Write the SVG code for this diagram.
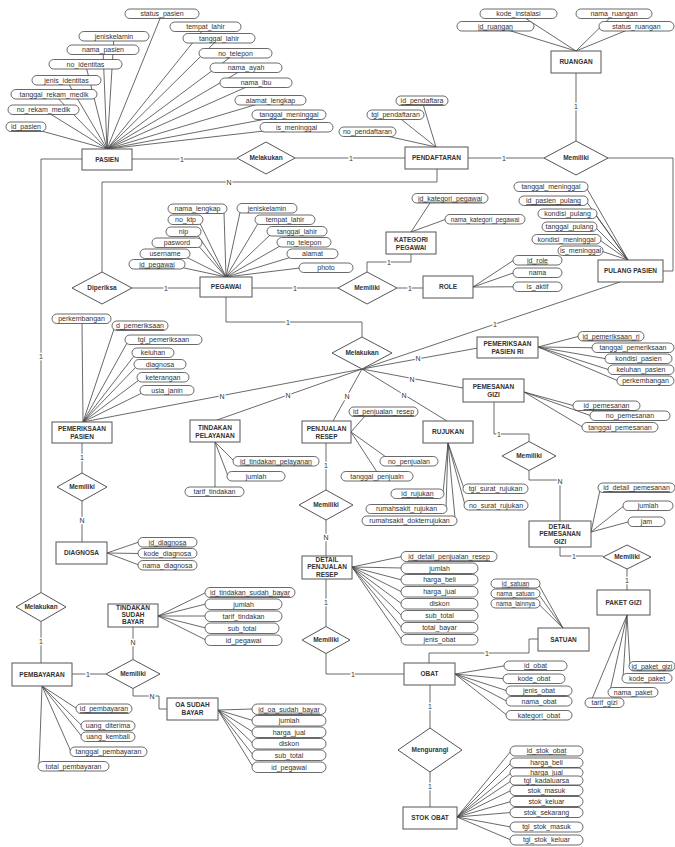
<svg xmlns="http://www.w3.org/2000/svg" width="675" height="847" viewBox="0 0 675 847">
<style>
.bg{fill:#fff}
.ln{fill:none;stroke:#444;stroke-width:0.8}
.a{fill:#fff;stroke:#444;stroke-width:0.8}
.t{font-family:"Liberation Sans",Arial,sans-serif;font-size:7px;fill:#333;text-anchor:middle}
.ts{font-family:"Liberation Sans",Arial,sans-serif;font-size:6.3px;fill:#333;text-anchor:middle}
.e{fill:#fff;stroke:#555;stroke-width:1}
.et{font-family:"Liberation Sans",Arial,sans-serif;font-size:6.5px;font-weight:bold;fill:#333;text-anchor:middle}
.d{fill:#fff;stroke:#555;stroke-width:1}
.c{font-family:"Liberation Sans",Arial,sans-serif;font-size:7px;fill:#333;text-anchor:middle;stroke:#fff;stroke-width:2.5;paint-order:stroke}
</style>
<rect class="bg" x="0" y="0" width="675" height="847"/>

<g id="connectors" class="ln">
<!-- relationships -->
<polyline points="132,159 237,159"/>
<polyline points="295,158 405,158"/>
<polyline points="437,169 437,182 102,182 102,272"/>
<polyline points="132,288 200,288"/>
<polyline points="252,288 338,288"/>
<polyline points="411,254 411,262 367,262 367,272"/>
<polyline points="397,288 423,288"/>
<polyline points="468,158 544,158"/>
<polyline points="576,73 576,141"/>
<polyline points="608,158 673,158 673,271 663,271"/>
<polyline points="82,159 41,159 41,592.5"/>
<polyline points="41,621.5 41,663"/>
<polyline points="226,297 226,322 362,322 362,337"/>
<line x1="362" y1="369" x2="83" y2="422"/>
<line x1="362" y1="369" x2="217" y2="420"/>
<line x1="362" y1="369" x2="333" y2="421"/>
<line x1="362" y1="369" x2="447" y2="421"/>
<line x1="362" y1="369" x2="463" y2="388"/>
<line x1="362" y1="369" x2="478" y2="348"/>
<line x1="362" y1="369" x2="620" y2="282"/>
<polyline points="494,402 494,434 529,434 529,441.5"/>
<polyline points="529,470.5 529,480 560,480 560,521"/>
<polyline points="560,547 560,556 603,556"/>
<polyline points="627,569 627,590"/>
<polyline points="326,443 326,490"/>
<polyline points="326,520 326,556"/>
<polyline points="326,579 326,626.5"/>
<polyline points="326,653.5 326,674 404,674"/>
<polyline points="429,663 429,653 529,653 529,639 538,639"/>
<polyline points="430,685 430,728"/>
<polyline points="430,772 430,807"/>
<polyline points="82,443 82,473"/>
<polyline points="82,501 82,542"/>
<polyline points="72,674 106,674"/>
<polyline points="133,659.5 133,627"/>
<polyline points="133,688.5 133,696 159,696 159,709 167,709"/>
<!-- attribute links: PASIEN -->
<path d="M107,149L162,13.75M107,149L205.5,26.75M107,149L219,38.25M107,149L114,36.25M107,149L103,49.75M107,149L85.5,64.25M107,149L235.5,53.25M107,149L246,67.75M107,149L66.5,80.25M107,149L256,82.75M107,149L54,94.25M107,149L270.5,100.25M107,149L43.5,109.75M107,149L289,114.75M107,149L26,126.75M107,149L296.5,127.25"/>
<!-- PENDAFTARAN -->
<path d="M436,147L422,100.75M436,147L395.5,114.75M436,147L367.5,131.75"/>
<!-- RUANGAN -->
<path d="M576,51L518.5,13.75M576,51L495.5,26.25M576,51L614,13.75M576,51L636.5,26.25"/>
<!-- PEGAWAI -->
<path d="M226,277L224,212.5M226,277L200,223.5M226,277L198,235.5M226,277L199,246.5M226,277L187,257.5M226,277L182,267.5M226,277L240,212.5M226,277L258,223.5M226,277L270,235M226,277L280,246M226,277L290,257.5M226,277L300,268"/>
<!-- KATEGORI -->
<path d="M411,232L430,203M411,232L446,219.25"/>
<!-- ROLE -->
<path d="M473,287L514,260M473,287L514,272.75M473,287L514,286.75"/>
<!-- PULANG PASIEN -->
<path d="M628,260L586,187M628,260L586,201M628,260L595,214M628,260L595,227M628,260L599,239.5M628,260L601,251"/>
<!-- PEMERIKSAAN RI -->
<path d="M538,347L579,336.25M538,347L593,347.75M538,347L606,358.75M538,347L609,369.75M538,347L618,380.75"/>
<!-- PEMESANAN GIZI -->
<path d="M524,392L574,405.75M524,392L591,415.75M524,392L583,427.25"/>
<!-- DETAIL PEMESANAN -->
<path d="M591,532L600,490M591,532L624,505.75M591,532L629,521.75"/>
<!-- PAKET GIZI -->
<path d="M627,615L630,666M627,615L623,678M627,615L610,691M627,615L592,699"/>
<!-- RUJUKAN -->
<path d="M448,443L443,493M448,443L446,508.5M448,443L455,518M448,443L464,488.5M448,443L465,505"/>
<!-- PENJUALAN RESEP -->
<path d="M351,432L365,416M351,432L386,457M351,432L377,472"/>
<!-- TINDAKAN PELAYANAN -->
<path d="M215,442L234,461M215,442L228,476M215,442L215,487"/>
<!-- PEMERIKSAAN PASIEN -->
<path d="M83,422L82,323M83,422L114,329M83,422L127,343M83,422L134,356M83,422L136,367M83,422L139,380M83,422L142,393"/>
<!-- DIAGNOSA -->
<path d="M107,553L139,542M107,553L139,553.5M107,553L139,565"/>
<!-- DETAIL PENJUALAN RESEP -->
<path d="M352,567L402,556.5M352,567L402,568M352,567L402,580M352,567L402,592M352,567L402,604M352,567L402,616M352,567L402,628M352,567L402,640"/>
<!-- SATUAN -->
<path d="M563,628L538,583.5M563,628L538,593.5M563,628L538,603.5"/>
<!-- OBAT -->
<path d="M455,674L505,665.75M455,674L504,678.75M455,674L507,690.75M455,674L507,701.25M455,674L507,715.25"/>
<!-- STOK OBAT -->
<path d="M457,817L511,751M457,817L511,763M457,817L511,773M457,817L511,781M457,817L511,790.5M457,817L511,801.5M457,817L511,812.5M457,817L511,827M457,817L511,840"/>
<!-- TINDAKAN SUDAH BAYAR -->
<path d="M158,616L206,592.5M158,616L206,604M158,616L206,616M158,616L206,628M158,616L206,640"/>
<!-- OA SUDAH BAYAR -->
<path d="M218,710L253,709M218,710L253,720.5M218,710L253,732M218,710L253,743.5M218,710L253,755M218,710L253,767"/>
<!-- PEMBAYARAN -->
<path d="M42,686L77,708.75M42,686L82,725.75M42,686L82,736.75M42,686L71,751.75M42,686L39,766"/>
</g>

<g id="cardinality">
<text class="c" x="182" y="161.5">1</text>
<text class="c" x="351" y="160.5">1</text>
<text class="c" x="229" y="184.5">N</text>
<text class="c" x="166" y="290.5">1</text>
<text class="c" x="295" y="290.5">1</text>
<text class="c" x="389" y="264.5">1</text>
<text class="c" x="410" y="290.5">1</text>
<text class="c" x="504" y="160.5">1</text>
<text class="c" x="576" y="108.5">1</text>
<text class="c" x="41" y="358.5">1</text>
<text class="c" x="41" y="643.5">1</text>
<text class="c" x="288" y="324.5">1</text>
<text class="c" x="222" y="398.5">N</text>
<text class="c" x="288" y="398">N</text>
<text class="c" x="347" y="398.5">N</text>
<text class="c" x="404" y="397.5">N</text>
<text class="c" x="412" y="381.5">N</text>
<text class="c" x="418" y="361">N</text>
<text class="c" x="495" y="326.5">1</text>
<text class="c" x="499" y="436.5">1</text>
<text class="c" x="560" y="484">N</text>
<text class="c" x="574" y="558.5">1</text>
<text class="c" x="627" y="582.5">1</text>
<text class="c" x="326" y="467.5">1</text>
<text class="c" x="326" y="539.5">N</text>
<text class="c" x="326" y="604.5">1</text>
<text class="c" x="353" y="676.5">1</text>
<text class="c" x="487" y="655.5">1</text>
<text class="c" x="430" y="708.5">1</text>
<text class="c" x="430" y="788.5">1</text>
<text class="c" x="82" y="459.5">1</text>
<text class="c" x="82" y="522.5">N</text>
<text class="c" x="88" y="676.5">1</text>
<text class="c" x="133" y="644.5">N</text>
<text class="c" x="152" y="698.5">N</text>
</g>

<!-- relationships (diamonds) -->
<g id="rel-melakukan-pendaftaran"><polygon class="d" points="237,158 266,142 295,158 266,174"/><text class="et" x="266" y="160.3">Melakukan</text></g>
<g id="rel-memiliki-ruangan"><polygon class="d" points="544,158 576,141 608,158 576,175"/><text class="et" x="576" y="160.3">Memiliki</text></g>
<g id="rel-diperiksa"><polygon class="d" points="72,288 102,272 132,288 102,304"/><text class="et" x="102" y="290.3">Diperiksa</text></g>
<g id="rel-memiliki-role"><polygon class="d" points="338,288 367,272 397,288 367,304"/><text class="et" x="367" y="290.3">Memiliki</text></g>
<g id="rel-melakukan-pegawai"><polygon class="d" points="332,353 362,337 392,353 362,369"/><text class="et" x="362" y="355.3">Melakukan</text></g>
<g id="rel-memiliki-gizi"><polygon class="d" points="502,456 529,441.5 556,456 529,470.5"/><text class="et" x="529" y="458.3">Memiliki</text></g>
<g id="rel-memiliki-paket"><polygon class="d" points="603,557 627,545 651,557 627,569"/><text class="et" x="627" y="559.3">Memiliki</text></g>
<g id="rel-memiliki-detail-resep"><polygon class="d" points="299,505 326,490 353,505 326,520"/><text class="et" x="326" y="507.3">Memiliki</text></g>
<g id="rel-memiliki-obat"><polygon class="d" points="302,640 326,626.5 350,640 326,653.5"/><text class="et" x="326" y="642.3">Memiliki</text></g>
<g id="rel-mengurangi"><polygon class="d" points="398,750 430,728 462,750 430,772"/><text class="et" x="430" y="752.3">Mengurangi</text></g>
<g id="rel-memiliki-diagnosa"><polygon class="d" points="57,487 82,473 107,487 82,501"/><text class="et" x="82" y="489.3">Memiliki</text></g>
<g id="rel-melakukan-pembayaran"><polygon class="d" points="16,607 41,592.5 66,607 41,621.5"/><text class="et" x="41" y="609.3">Melakukan</text></g>
<g id="rel-memiliki-bayar"><polygon class="d" points="106,674 133,659.5 160,674 133,688.5"/><text class="et" x="133" y="676.3">Memiliki</text></g>

<!-- entities -->
<g id="pasien"><rect class="e" x="82" y="149" width="50" height="21"/><text class="et" x="107" y="161.8">PASIEN</text></g>
<g id="pendaftaran"><rect class="e" x="405" y="147" width="63" height="22"/><text class="et" x="436.5" y="160.3">PENDAFTARAN</text></g>
<g id="ruangan"><rect class="e" x="551" y="51" width="50" height="22"/><text class="et" x="576" y="64.3">RUANGAN</text></g>
<g id="pegawai"><rect class="e" x="200" y="277" width="52" height="20"/><text class="et" x="226" y="289.3">PEGAWAI</text></g>
<g id="kategori-pegawai"><rect class="e" x="386" y="232" width="50" height="22"/><text class="et" x="411" y="241.5">KATEGORI</text><text class="et" x="411" y="249.5">PEGAWAI</text></g>
<g id="role"><rect class="e" x="423" y="276" width="50" height="22"/><text class="et" x="448" y="289.3">ROLE</text></g>
<g id="pulang-pasien"><rect class="e" x="598" y="260" width="65" height="22"/><text class="et" x="630.5" y="273.3">PULANG PASIEN</text></g>
<g id="pemeriksaan-pasien-ri"><rect class="e" x="477" y="337" width="61" height="21"/><text class="et" x="507.5" y="345.5">PEMERIKSAAN</text><text class="et" x="507.5" y="353.5">PASIEN RI</text></g>
<g id="pemesanan-gizi"><rect class="e" x="463" y="379" width="61" height="23"/><text class="et" x="493.5" y="388.5">PEMESANAN</text><text class="et" x="493.5" y="396.5">GIZI</text></g>
<g id="rujukan"><rect class="e" x="423" y="421" width="50" height="22"/><text class="et" x="448" y="434.3">RUJUKAN</text></g>
<g id="penjualan-resep"><rect class="e" x="302" y="421" width="49" height="22"/><text class="et" x="326.5" y="430.5">PENJUALAN</text><text class="et" x="326.5" y="438.5">RESEP</text></g>
<g id="tindakan-pelayanan"><rect class="e" x="190" y="420" width="50" height="22"/><text class="et" x="215" y="429.5">TINDAKAN</text><text class="et" x="215" y="437.5">PELAYANAN</text></g>
<g id="pemeriksaan-pasien"><rect class="e" x="52" y="422" width="60" height="21"/><text class="et" x="82" y="430.5">PEMERIKSAAN</text><text class="et" x="82" y="438.5">PASIEN</text></g>
<g id="diagnosa"><rect class="e" x="56" y="542" width="51" height="22"/><text class="et" x="81.5" y="555.3">DIAGNOSA</text></g>
<g id="detail-pemesanan-gizi"><rect class="e" x="529" y="521" width="62" height="26"/><text class="et" x="560" y="528.5">DETAIL</text><text class="et" x="560" y="536">PEMESANAN</text><text class="et" x="560" y="543.5">GIZI</text></g>
<g id="paket-gizi"><rect class="e" x="597" y="590" width="53" height="25"/><text class="et" x="623.5" y="604.8">PAKET GIZI</text></g>
<g id="detail-penjualan-resep"><rect class="e" x="302" y="556" width="50" height="23"/><text class="et" x="327" y="561.5">DETAIL</text><text class="et" x="327" y="569">PENJUALAN</text><text class="et" x="327" y="576.5">RESEP</text></g>
<g id="satuan"><rect class="e" x="538" y="628" width="51" height="23"/><text class="et" x="563.5" y="641.8">SATUAN</text></g>
<g id="obat"><rect class="e" x="404" y="663" width="51" height="22"/><text class="et" x="429.5" y="676.3">OBAT</text></g>
<g id="stok-obat"><rect class="e" x="403" y="807" width="54" height="22"/><text class="et" x="430" y="820.3">STOK OBAT</text></g>
<g id="tindakan-sudah-bayar"><rect class="e" x="108" y="604" width="50" height="23"/><text class="et" x="133" y="610">TINDAKAN</text><text class="et" x="133" y="617">SUDAH</text><text class="et" x="133" y="624">BAYAR</text></g>
<g id="oa-sudah-bayar"><rect class="e" x="167" y="698" width="51" height="22"/><text class="et" x="192.5" y="707">OA SUDAH</text><text class="et" x="192.5" y="715">BAYAR</text></g>
<g id="pembayaran"><rect class="e" x="12" y="663" width="60" height="23"/><text class="et" x="42" y="676.8">PEMBAYARAN</text></g>

<!-- attributes -->
<g id="attr-pasien">
<rect class="a" x="125" y="9" width="74" height="9.5" rx="4.75"/><text class="t" x="162" y="16.2">status_pasien</text>
<rect class="a" x="170" y="22" width="71" height="9.5" rx="4.75"/><text class="t" x="205.5" y="29.2">tempat_lahir</text>
<rect class="a" x="183" y="33.5" width="72" height="9.5" rx="4.75"/><text class="t" x="219" y="40.7">tanggal_lahir</text>
<rect class="a" x="79" y="31.5" width="70" height="9.5" rx="4.75"/><text class="t" x="114" y="38.7">jeniskelamin</text>
<rect class="a" x="67" y="45" width="72" height="9.5" rx="4.75"/><text class="t" x="103" y="52.2">nama_pasien</text>
<rect class="a" x="49" y="59.5" width="73" height="9.5" rx="4.75"/><text class="t" x="85.5" y="66.7">no_identitas</text>
<rect class="a" x="199" y="48.5" width="73" height="9.5" rx="4.75"/><text class="t" x="235.5" y="55.7">no_telepon</text>
<rect class="a" x="210" y="63" width="72" height="9.5" rx="4.75"/><text class="t" x="246" y="70.2">nama_ayah</text>
<rect class="a" x="32" y="75.5" width="69" height="9.5" rx="4.75"/><text class="t" x="66.5" y="82.7">jenis_identitas</text>
<rect class="a" x="220" y="78" width="72" height="9.5" rx="4.75"/><text class="t" x="256" y="85.2">nama_ibu</text>
<rect class="a" x="11" y="89.5" width="86" height="9.5" rx="4.75"/><text class="t" x="54" y="96.7">tanggal_rekam_medik</text>
<rect class="a" x="235" y="95.5" width="71" height="9.5" rx="4.75"/><text class="t" x="270.5" y="102.7">alamat_lengkap</text>
<rect class="a" x="8" y="105" width="71" height="9.5" rx="4.75"/><text class="t" x="43.5" y="112.2">no_rekam_medik</text>
<rect class="a" x="252" y="110" width="74" height="9.5" rx="4.75"/><text class="t" x="289" y="117.2">tanggal_meninggal</text>
<rect class="a" x="6" y="122" width="40" height="9.5" rx="4.75"/><text class="t" x="26" y="129.2" text-decoration="underline">id_pasien</text>
<rect class="a" x="260" y="122.5" width="73" height="9.5" rx="4.75"/><text class="t" x="296.5" y="129.7">is_meninggal</text>
</g>
<g id="attr-pendaftaran">
<rect class="a" x="396" y="96" width="52" height="9.5" rx="4.75"/><text class="t" x="422" y="103.2" text-decoration="underline">id_pendaftara</text>
<rect class="a" x="367" y="110" width="57" height="9.5" rx="4.75"/><text class="t" x="395.5" y="117.2">tgl_pendaftaran</text>
<rect class="a" x="339" y="127" width="57" height="9.5" rx="4.75"/><text class="t" x="367.5" y="134.2">no_pendaftaran</text>
</g>
<g id="attr-ruangan">
<rect class="a" x="480" y="9" width="77" height="9.5" rx="4.75"/><text class="t" x="518.5" y="16.2">kode_instalasi</text>
<rect class="a" x="457" y="21.5" width="77" height="9.5" rx="4.75"/><text class="t" x="495.5" y="28.7" text-decoration="underline">id_ruangan</text>
<rect class="a" x="576" y="9" width="76" height="9.5" rx="4.75"/><text class="t" x="614" y="16.2">nama_ruangan</text>
<rect class="a" x="599" y="21.5" width="75" height="9.5" rx="4.75"/><text class="t" x="636.5" y="28.7">status_ruangan</text>
</g>
<g id="attr-pegawai">
<rect class="a" x="168" y="204" width="59" height="9.5" rx="4.75"/><text class="t" x="197.5" y="211.2">nama_lengkap</text>
<rect class="a" x="168" y="215" width="35" height="9.5" rx="4.75"/><text class="t" x="185.5" y="222.2">no_ktp</text>
<rect class="a" x="166" y="227" width="35" height="9.5" rx="4.75"/><text class="t" x="183.5" y="234.2">nip</text>
<rect class="a" x="152" y="238" width="50" height="9.5" rx="4.75"/><text class="t" x="177" y="245.2">pasword</text>
<rect class="a" x="140" y="249" width="50" height="9.5" rx="4.75"/><text class="t" x="165" y="256.2">username</text>
<rect class="a" x="129" y="259.5" width="56" height="9.5" rx="4.75"/><text class="t" x="157" y="266.7" text-decoration="underline">id_pegawai</text>
<rect class="a" x="237" y="203.5" width="60" height="9.5" rx="4.75"/><text class="t" x="267" y="210.7">jeniskelamin</text>
<rect class="a" x="255" y="215" width="60" height="9.5" rx="4.75"/><text class="t" x="285" y="222.2">tempat_lahir</text>
<rect class="a" x="267" y="226.5" width="60" height="9.5" rx="4.75"/><text class="t" x="297" y="233.7">tanggal_lahir</text>
<rect class="a" x="277" y="237.5" width="54" height="9.5" rx="4.75"/><text class="t" x="304" y="244.7">no_telepon</text>
<rect class="a" x="287" y="249" width="51" height="9.5" rx="4.75"/><text class="t" x="312.5" y="256.2">alamat</text>
<rect class="a" x="299" y="263" width="54" height="9.5" rx="4.75"/><text class="t" x="326" y="270.2">photo</text>
</g>
<g id="attr-kategori-pegawai">
<rect class="a" x="412" y="193.5" width="76" height="9.5" rx="4.75"/><text class="t" x="450" y="200.7" text-decoration="underline">id_kategori_pegawai</text>
<rect class="a" x="445" y="214.5" width="80" height="9.5" rx="4.75"/><text class="ts" x="485" y="221.5">nama_kategori_pegawai</text>
</g>
<g id="attr-role">
<rect class="a" x="513" y="255.5" width="49" height="9.5" rx="4.75"/><text class="t" x="537.5" y="262.7" text-decoration="underline">id_role</text>
<rect class="a" x="513" y="268" width="49" height="9.5" rx="4.75"/><text class="t" x="537.5" y="275.2">nama</text>
<rect class="a" x="513" y="282" width="49" height="9.5" rx="4.75"/><text class="t" x="537.5" y="289.2">is_aktif</text>
</g>
<g id="attr-pulang-pasien">
<rect class="a" x="514" y="182" width="74" height="9.5" rx="4.75"/><text class="t" x="551" y="189.2">tanggal_meninggal</text>
<rect class="a" x="519" y="196" width="69" height="9.5" rx="4.75"/><text class="t" x="553.5" y="203.2" text-decoration="underline">id_pasien_pulang</text>
<rect class="a" x="538" y="209" width="59" height="9.5" rx="4.75"/><text class="t" x="567.5" y="216.2">kondisi_pulang</text>
<rect class="a" x="542" y="222" width="55" height="9.5" rx="4.75"/><text class="t" x="569.5" y="229.2">tanggal_pulang</text>
<rect class="a" x="532" y="234.5" width="69" height="9.5" rx="4.75"/><text class="t" x="566.5" y="241.7">kondisi_meninggal</text>
<rect class="a" x="558" y="246" width="45" height="9.5" rx="4.75"/><text class="t" x="580.5" y="253.2">is_meninggal</text>
</g>
<g id="attr-pemeriksaan-pasien-ri">
<rect class="a" x="578" y="331.5" width="66" height="9.5" rx="4.75"/><text class="t" x="611" y="338.7" text-decoration="underline">id_pemeriksaan_ri</text>
<rect class="a" x="592" y="343" width="82" height="9.5" rx="4.75"/><text class="t" x="633" y="350.2">tanggal_pemeriksaan</text>
<rect class="a" x="605" y="354" width="67" height="9.5" rx="4.75"/><text class="t" x="638.5" y="361.2">kondisi_pasien</text>
<rect class="a" x="608" y="365" width="66" height="9.5" rx="4.75"/><text class="t" x="641" y="372.2">keluhan_pasien</text>
<rect class="a" x="617" y="376" width="57" height="9.5" rx="4.75"/><text class="t" x="645.5" y="383.2">perkembangan</text>
</g>
<g id="attr-pemesanan-gizi">
<rect class="a" x="573" y="401" width="67" height="9.5" rx="4.75"/><text class="t" x="606.5" y="408.2" text-decoration="underline">id_pemesanan</text>
<rect class="a" x="590" y="411" width="80" height="9.5" rx="4.75"/><text class="t" x="630" y="418.2">no_pemesanan</text>
<rect class="a" x="582" y="422.5" width="76" height="9.5" rx="4.75"/><text class="t" x="620" y="429.7">tanggal_pemesanan</text>
</g>
<g id="attr-detail-pemesanan-gizi">
<rect class="a" x="598" y="483" width="77" height="9.5" rx="4.75"/><text class="t" x="636.5" y="490.2" text-decoration="underline">id_detail_pemesanan</text>
<rect class="a" x="623" y="501" width="50" height="9.5" rx="4.75"/><text class="t" x="648" y="508.2">jumlah</text>
<rect class="a" x="628" y="517" width="37" height="9.5" rx="4.75"/><text class="t" x="646.5" y="524.2">jam</text>
</g>
<g id="attr-paket-gizi">
<rect class="a" x="629" y="661.5" width="46" height="9.5" rx="4.75"/><text class="t" x="652" y="668.7" text-decoration="underline">id_paket_gizi</text>
<rect class="a" x="622" y="673.5" width="50" height="9.5" rx="4.75"/><text class="t" x="647" y="680.7">kode_paket</text>
<rect class="a" x="608" y="687.5" width="50" height="9.5" rx="4.75"/><text class="t" x="633" y="694.7">nama_paket</text>
<rect class="a" x="585" y="698" width="39" height="9.5" rx="4.75"/><text class="t" x="604.5" y="705.2">tarif_gizi</text>
</g>
<g id="attr-rujukan">
<rect class="a" x="391" y="489" width="53" height="9.5" rx="4.75"/><text class="t" x="417.5" y="496.2" text-decoration="underline">id_rujukan</text>
<rect class="a" x="366" y="504.5" width="81" height="9" rx="4.5"/><text class="t" x="406.5" y="511.4">rumahsakit_rujukan</text>
<rect class="a" x="362" y="516" width="95" height="9.5" rx="4.75"/><text class="t" x="409.5" y="523.2">rumahsakit_dokterrujukan</text>
<rect class="a" x="463" y="484" width="65" height="9.5" rx="4.75"/><text class="t" x="495.5" y="491.2">tgl_surat_rujukan</text>
<rect class="a" x="464" y="500.5" width="64" height="9.5" rx="4.75"/><text class="t" x="496" y="507.7">no_surat_rujukan</text>
</g>
<g id="attr-penjualan-resep">
<rect class="a" x="349" y="407" width="69" height="9.5" rx="4.75"/><text class="t" x="383.5" y="414.2" text-decoration="underline">id_penjualan_resep</text>
<rect class="a" x="380" y="456.5" width="58" height="9.5" rx="4.75"/><text class="t" x="409" y="463.7">no_penjualan</text>
<rect class="a" x="341" y="471.5" width="72" height="9.5" rx="4.75"/><text class="t" x="377" y="478.7">tanggal_penjualn</text>
</g>
<g id="attr-tindakan-pelayanan">
<rect class="a" x="233" y="456.5" width="86" height="9.5" rx="4.75"/><text class="t" x="276" y="463.7" text-decoration="underline">id_tindakan_pelayanan</text>
<rect class="a" x="227" y="471.5" width="58" height="9.5" rx="4.75"/><text class="t" x="256" y="478.7">jumlah</text>
<rect class="a" x="185" y="487" width="59" height="9.5" rx="4.75"/><text class="t" x="214.5" y="494.2">tarif_tindakan</text>
</g>
<g id="attr-pemeriksaan-pasien">
<rect class="a" x="52" y="314" width="59" height="9.5" rx="4.75"/><text class="t" x="81.5" y="321.2">perkembangan</text>
<rect class="a" x="112" y="321" width="56" height="9.5" rx="4.75"/><text class="t" x="140" y="328.2" text-decoration="underline">d_pemeriksaan</text>
<rect class="a" x="125" y="335" width="77" height="9.5" rx="4.75"/><text class="t" x="163.5" y="342.2">tgl_pemeriksaan</text>
<rect class="a" x="132" y="348" width="42" height="9.5" rx="4.75"/><text class="t" x="153" y="355.2">keluhan</text>
<rect class="a" x="134" y="359.5" width="52" height="9.5" rx="4.75"/><text class="t" x="160" y="366.7">diagnosa</text>
<rect class="a" x="137" y="372.5" width="52" height="9.5" rx="4.75"/><text class="t" x="163" y="379.7">keterangan</text>
<rect class="a" x="140" y="385.5" width="54" height="9.5" rx="4.75"/><text class="t" x="167" y="392.7">usia_janin</text>
</g>
<g id="attr-diagnosa">
<rect class="a" x="138" y="537.5" width="59" height="9.5" rx="4.75"/><text class="t" x="167.5" y="544.7" text-decoration="underline">id_diagnosa</text>
<rect class="a" x="138" y="548.5" width="59" height="9.5" rx="4.75"/><text class="t" x="167.5" y="555.7">kode_diagnosa</text>
<rect class="a" x="138" y="560.5" width="59" height="9.5" rx="4.75"/><text class="t" x="167.5" y="567.7">nama_diagnosa</text>
</g>
<g id="attr-detail-penjualan-resep">
<rect class="a" x="401" y="551.5" width="96" height="10" rx="5"/><text class="t" x="449" y="558.9" text-decoration="underline">id_detail_penjualan_resep</text>
<rect class="a" x="401" y="563" width="77" height="10.5" rx="5.25"/><text class="t" x="439.5" y="570.7">jumlah</text>
<rect class="a" x="401" y="574.5" width="77" height="10.5" rx="5.25"/><text class="t" x="439.5" y="582.2">harga_beli</text>
<rect class="a" x="401" y="586.5" width="77" height="10.5" rx="5.25"/><text class="t" x="439.5" y="594.2">harga_jual</text>
<rect class="a" x="401" y="598.5" width="77" height="10.5" rx="5.25"/><text class="t" x="439.5" y="606.2">diskon</text>
<rect class="a" x="401" y="610.5" width="77" height="10.5" rx="5.25"/><text class="t" x="439.5" y="618.2">sub_total</text>
<rect class="a" x="401" y="622.5" width="77" height="10.5" rx="5.25"/><text class="t" x="439.5" y="630.2">total_bayar</text>
<rect class="a" x="401" y="634.5" width="77" height="10.5" rx="5.25"/><text class="t" x="439.5" y="642.2">jenis_obat</text>
</g>
<g id="attr-satuan">
<rect class="a" x="491" y="579" width="49" height="9" rx="4.5"/><text class="ts" x="515.5" y="585.8" text-decoration="underline">id_satuan</text>
<rect class="a" x="491" y="589" width="49" height="9" rx="4.5"/><text class="ts" x="515.5" y="595.8">nama_satuan</text>
<rect class="a" x="491" y="599" width="49" height="9" rx="4.5"/><text class="ts" x="515.5" y="605.8">nama_lainnya</text>
</g>
<g id="attr-obat">
<rect class="a" x="504" y="661" width="63" height="9.5" rx="4.75"/><text class="t" x="535.5" y="668.2" text-decoration="underline">id_obat</text>
<rect class="a" x="503" y="674" width="62" height="9.5" rx="4.75"/><text class="t" x="534" y="681.2">kode_obat</text>
<rect class="a" x="506" y="686" width="66" height="9.5" rx="4.75"/><text class="t" x="539" y="693.2">jenis_obat</text>
<rect class="a" x="506" y="696.5" width="66" height="9.5" rx="4.75"/><text class="t" x="539" y="703.7">nama_obat</text>
<rect class="a" x="506" y="710.5" width="66" height="9.5" rx="4.75"/><text class="t" x="539" y="717.7">kategori_obat</text>
</g>
<g id="attr-stok-obat">
<rect class="a" x="510" y="746" width="73" height="10" rx="5"/><text class="t" x="546.5" y="753.4" text-decoration="underline">id_stok_obat</text>
<rect class="a" x="510" y="758" width="73" height="9.5" rx="4.75"/><text class="t" x="546.5" y="765.2">harga_beli</text>
<rect class="a" x="510" y="768" width="73" height="9" rx="4.5"/><text class="t" x="546.5" y="774.9">harga_jual</text>
<rect class="a" x="510" y="776" width="73" height="9" rx="4.5"/><text class="t" x="546.5" y="782.9">tgl_kadaluarsa</text>
<rect class="a" x="510" y="785.5" width="73" height="10" rx="5"/><text class="t" x="546.5" y="792.9">stok_masuk</text>
<rect class="a" x="510" y="796.5" width="73" height="10" rx="5"/><text class="t" x="546.5" y="803.9">stok_keluar</text>
<rect class="a" x="510" y="807.5" width="73" height="10" rx="5"/><text class="t" x="546.5" y="814.9">stok_sekarang</text>
<rect class="a" x="510" y="822" width="73" height="10" rx="5"/><text class="t" x="546.5" y="829.4">tgl_stok_masuk</text>
<rect class="a" x="510" y="835" width="73" height="10" rx="5"/><text class="t" x="546.5" y="842.4">tgl_stok_keluar</text>
</g>
<g id="attr-tindakan-sudah-bayar">
<rect class="a" x="205" y="587.5" width="90" height="10" rx="5"/><text class="t" x="250" y="594.9" text-decoration="underline">id_tindakan_sudah_bayar</text>
<rect class="a" x="205" y="599" width="77" height="10.5" rx="5.25"/><text class="t" x="243.5" y="606.7">jumlah</text>
<rect class="a" x="205" y="611" width="77" height="10.5" rx="5.25"/><text class="t" x="243.5" y="618.7">tarif_tindakan</text>
<rect class="a" x="205" y="623" width="74" height="10.5" rx="5.25"/><text class="t" x="242" y="630.7">sub_total</text>
<rect class="a" x="205" y="635" width="77" height="10.5" rx="5.25"/><text class="t" x="243.5" y="642.7">id_pegawai</text>
</g>
<g id="attr-oa-sudah-bayar">
<rect class="a" x="252" y="704" width="74" height="10.5" rx="5.25"/><text class="t" x="289" y="711.7" text-decoration="underline">id_oa_sudah_bayar</text>
<rect class="a" x="252" y="715.5" width="74" height="10.5" rx="5.25"/><text class="t" x="289" y="723.2">jumlah</text>
<rect class="a" x="252" y="727" width="74" height="10.5" rx="5.25"/><text class="t" x="289" y="734.7">harga_jual</text>
<rect class="a" x="252" y="738.5" width="74" height="10.5" rx="5.25"/><text class="t" x="289" y="746.2">diskon</text>
<rect class="a" x="252" y="750" width="74" height="10.5" rx="5.25"/><text class="t" x="289" y="757.7">sub_total</text>
<rect class="a" x="252" y="762" width="74" height="10.5" rx="5.25"/><text class="t" x="289" y="769.7">id_pegawai</text>
</g>
<g id="attr-pembayaran">
<rect class="a" x="76" y="704" width="56" height="9.5" rx="4.75"/><text class="t" x="104" y="711.2" text-decoration="underline">id_pembayaran</text>
<rect class="a" x="81" y="721" width="54" height="9.5" rx="4.75"/><text class="t" x="108" y="728.2">uang_diterima</text>
<rect class="a" x="81" y="732" width="54" height="9.5" rx="4.75"/><text class="t" x="108" y="739.2">uang_kembali</text>
<rect class="a" x="70" y="747" width="77" height="9.5" rx="4.75"/><text class="t" x="108.5" y="754.2">tanggal_pembayaran</text>
<rect class="a" x="38" y="761.5" width="71" height="9.5" rx="4.75"/><text class="t" x="73.5" y="768.7">total_pembayaran</text>
</g>
</svg>
